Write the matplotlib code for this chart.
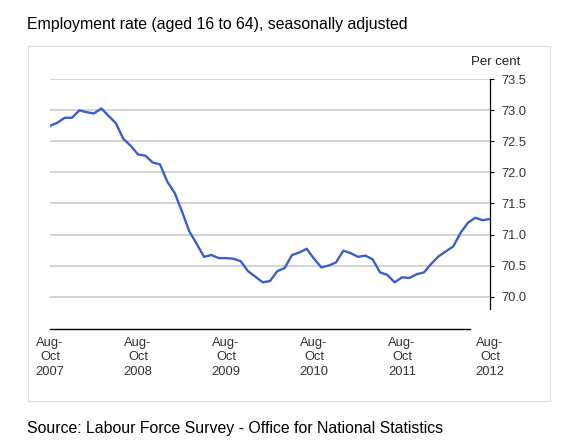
import numpy as np
import matplotlib
matplotlib.use("Agg")
import matplotlib.pyplot as plt
from matplotlib.patches import Rectangle
from matplotlib.lines import Line2D

plt.rcParams['font.family'] = ['Liberation Sans', 'DejaVu Sans']

# monthly rolling quarters, Aug-Oct 2007 .. Aug-Oct 2012
rate = [72.75, 72.80, 72.88, 72.88, 73.00, 72.97, 72.95, 73.03, 72.91, 72.79,
        72.54, 72.43, 72.29, 72.27, 72.16, 72.13, 71.85, 71.67, 71.37, 71.05,
        70.85, 70.64, 70.67, 70.62, 70.62, 70.61, 70.57, 70.41, 70.32, 70.23,
        70.25, 70.41, 70.46, 70.67, 70.71, 70.77, 70.61, 70.47, 70.50, 70.55,
        70.74, 70.70, 70.64, 70.66, 70.60, 70.39, 70.35, 70.23, 70.31, 70.30,
        70.36, 70.39, 70.53, 70.65, 70.73, 70.81, 71.03, 71.19, 71.27, 71.23,
        71.25]
tick_labels = ["Aug-\nOct\n2007", "Aug-\nOct\n2008", "Aug-\nOct\n2009",
               "Aug-\nOct\n2010", "Aug-\nOct\n2011", "Aug-\nOct\n2012"]
y_ticks = [70.0, 70.5, 71.0, 71.5, 72.0, 72.5, 73.0, 73.5]

fig = plt.figure(figsize=(5.8, 4.48), dpi=100)
ax = fig.add_axes([50/580, 1 - 309/448, 440/580, (309 - 79.3)/448])

months = np.arange(len(rate))
ax.plot(months, rate, color='#3a5fcd', lw=1.7, solid_joinstyle='round', zorder=3)

ax.set_xlim(0, 60)
ax.set_ylim(69.8, 73.5)

# gridlines drawn by hand so they stop at the axis
for v in y_ticks:
    ax.axhline(v, color='#c8c8c8', lw=1.1, zorder=1)

ax.yaxis.tick_right()
ax.set_yticks(y_ticks)
ax.set_yticklabels([f"{v:.1f}" for v in y_ticks])
ax.tick_params(axis='y', direction='out', length=3, width=0.8, pad=5,
               labelsize=9.3, labelcolor='#333333', color='black')

ax.set_xticks(np.arange(0, 61, 12))
ax.set_xticklabels(tick_labels, linespacing=1.3)
ax.tick_params(axis='x', length=0, pad=20, labelsize=9.3, labelcolor='#333333')

for side in ['left', 'top', 'bottom']:
    ax.spines[side].set_visible(False)
ax.spines['right'].set_linewidth(0.9)

# bottom category line
fig.add_artist(Line2D([50.5/580, 470/580], [1 - 329/448, 1 - 329/448],
                      color='black', lw=1.0))

# panel border
fig.add_artist(Rectangle((27.5/580, 1 - 401/448), 522/580, (401 - 45.7)/448,
                         fill=False, edgecolor='#e0e0e0', lw=0.9))

fig.text(27/580, 1 - 25/448, "Employment rate (aged 16 to 64), seasonally adjusted",
         fontsize=11.4, va='center', ha='left', color='black')
fig.text(520/580, 1 - 62/448, "Per cent", fontsize=9.5, va='center', ha='right',
         color='#222222')
fig.text(27/580, 1 - 428/448, "Source: Labour Force Survey - Office for National Statistics",
         fontsize=11.4, va='center', ha='left', color='black')

fig.savefig("out.png", dpi=100)
